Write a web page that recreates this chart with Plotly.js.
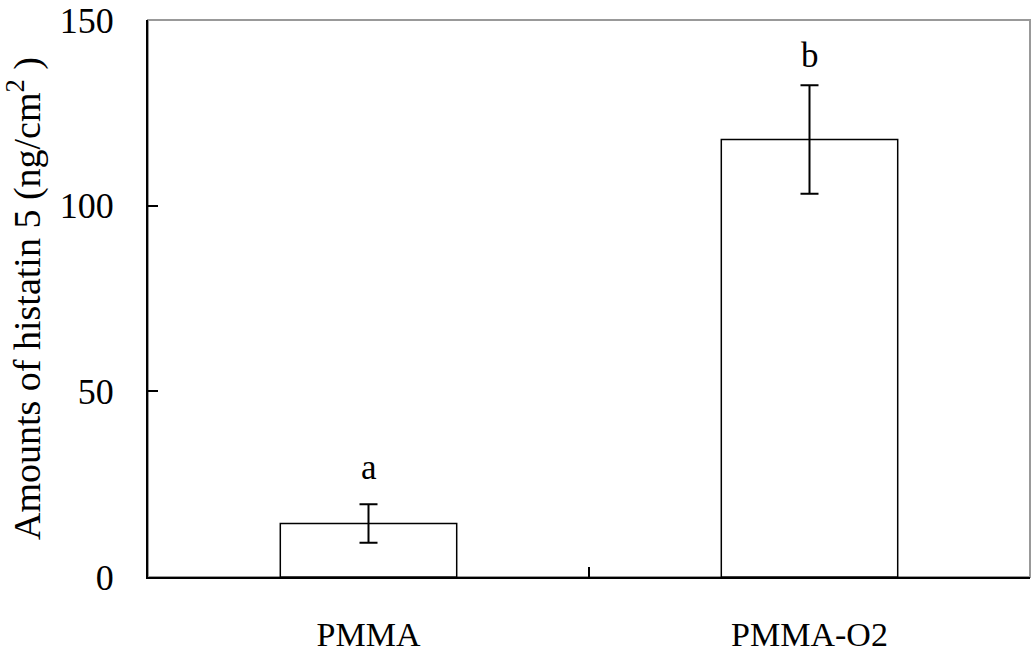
<!DOCTYPE html>
<html>
<head>
<meta charset="utf-8">
<script src="https://cdn.plot.ly/plotly-3.0.1.min.js"></script>
<style>html,body{margin:0;padding:0;background:#fff;}#chart{width:1035px;height:653px;}</style>
</head>
<body>
<div id="chart"></div>
<script>
const categories = ["PMMA", "PMMA-O2"];
const amounts = [14.4, 117.8];
const errors = [5.2, 14.6];
const letters = ["a", "b"];
const yTicks = [0, 50, 100, 150];

const font = {family: "Liberation Serif, Times New Roman, serif", color: "#000"};

const trace = {
  type: "bar",
  x: categories,
  y: amounts,
  width: 0.4,
  marker: {color: "#fff", line: {color: "#000", width: 1.5}},
  error_y: {type: "data", array: errors, visible: true, color: "#000", thickness: 2, width: 9},
  hoverinfo: "skip"
};

const shifts = [15, 8];
const annotations = categories.map((c, i) => ({
  x: c, y: amounts[i] + errors[i], xref: "x", yref: "y",
  text: letters[i], showarrow: false, yanchor: "bottom", yshift: shifts[i],
  font: Object.assign({}, font, {size: 35})
}));

const layout = {
  width: 1035, height: 653,
  margin: {l: 148, r: 5, t: 20, b: 76},
  paper_bgcolor: "#fff", plot_bgcolor: "#fff",
  showlegend: false,
  font: font,
  xaxis: {
    type: "category",
    range: [-0.5, 1.5],
    showline: true, linecolor: "#000", linewidth: 2,
    ticks: "inside", tickson: "boundaries", ticklen: 10, tickwidth: 2, tickcolor: "#000",
    showgrid: false, zeroline: false,
    tickfont: Object.assign({}, font, {size: 34}),
    ticklabelstandoff: 26
  },
  yaxis: {
    range: [0, 150],
    tickvals: yTicks,
    showline: true, linecolor: "#000", linewidth: 2,
    ticks: "inside", ticklen: 10, tickwidth: 2, tickcolor: "#000",
    showgrid: false, zeroline: false,
    tickfont: Object.assign({}, font, {size: 36}),
    ticklabelstandoff: 25,
    title: {text: "Amounts of histatin 5 (ng/cm<sup>2</sup> )", font: Object.assign({}, font, {size: 38}), standoff: 16}
  },
  shapes: [{
    type: "rect", xref: "paper", yref: "paper", x0: 0, x1: 1, y0: 0, y1: 1,
    line: {color: "#999", width: 2}, layer: "below"
  }],
  annotations: annotations
};

Plotly.newPlot("chart", [trace], layout, {displayModeBar: false, staticPlot: true});
</script>
</body>
</html>
